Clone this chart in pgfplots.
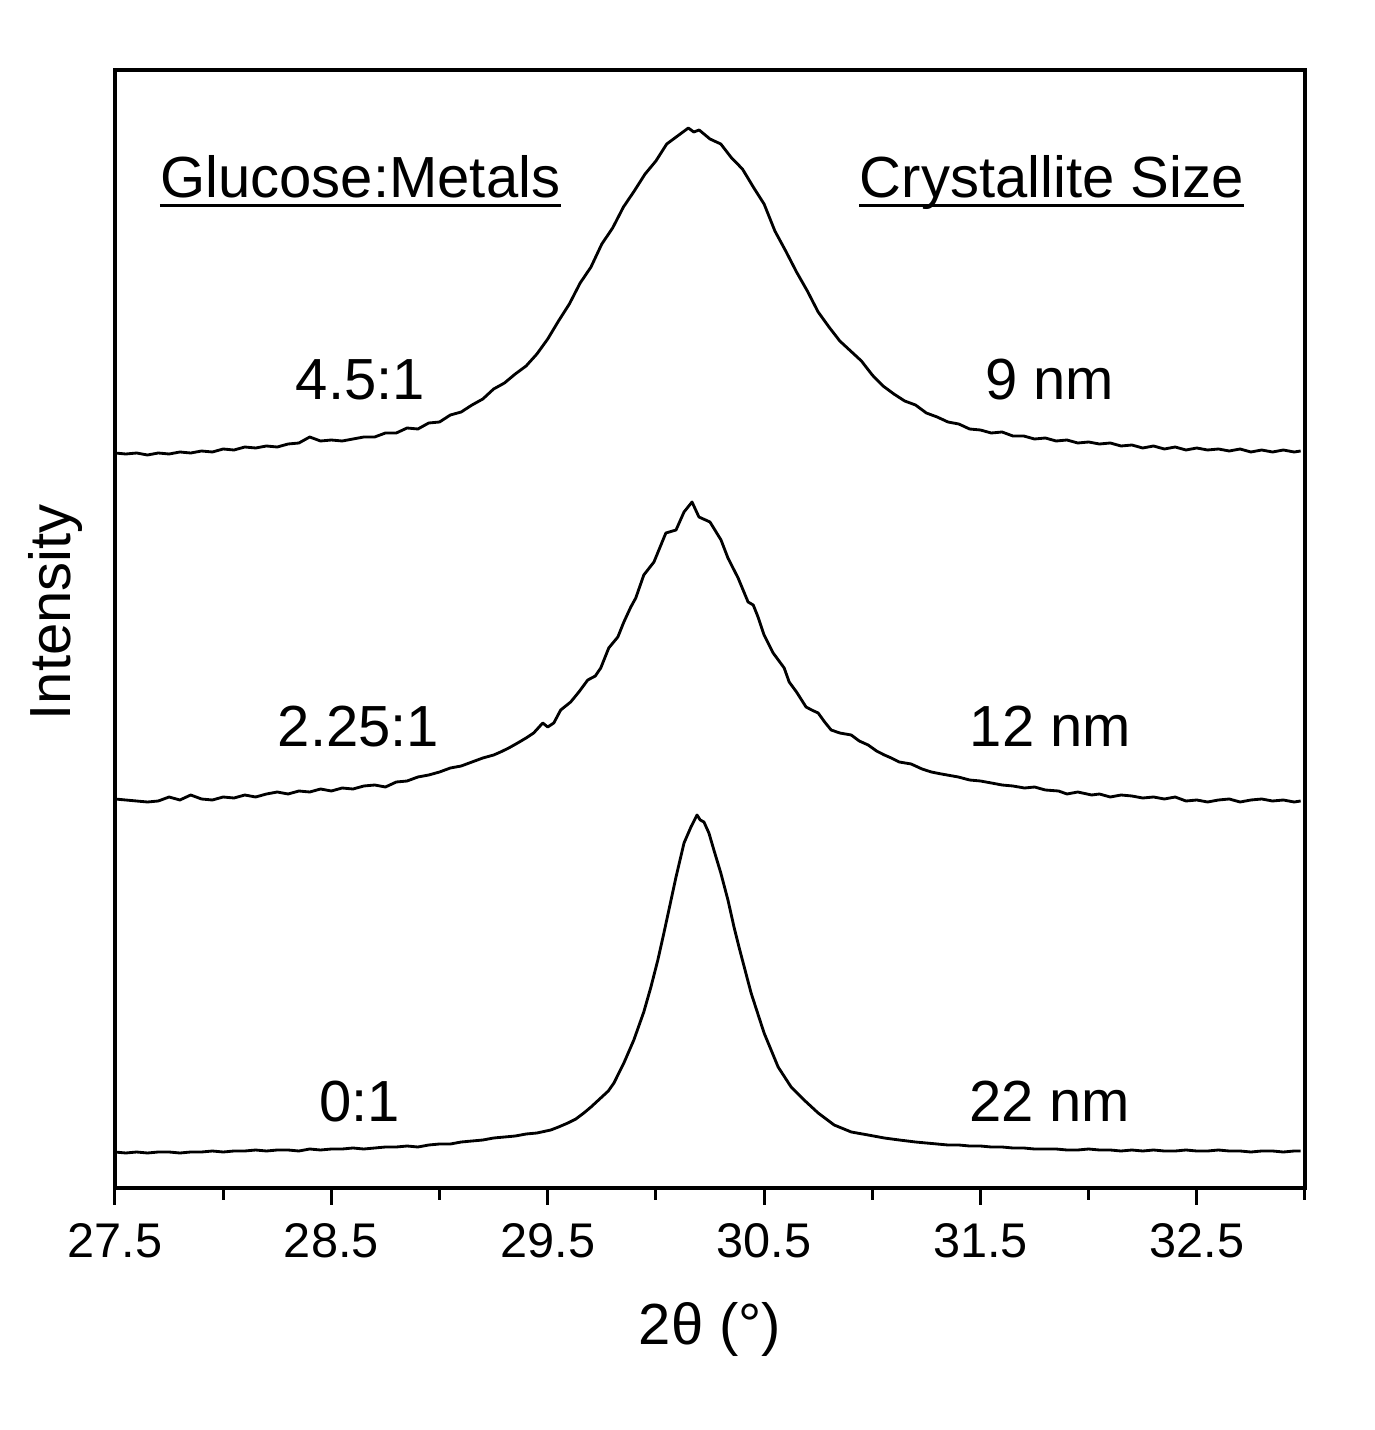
\documentclass[border=0pt]{standalone}
\usepackage{fontspec}
\setmainfont{Liberation Sans}
\usepackage{pgfplots}
\usepackage{pgfplotstable}
\pgfplotsset{compat=1.18}

% y values in arbitrary stacked units (0 = bottom of axis, 1118 = top)
\pgfplotstableread{
x y
27.50 735
27.55 734
27.60 735
27.65 733
27.70 735
27.75 734
27.80 736
27.85 735
27.90 737
27.95 736
28.00 739
28.05 738
28.10 741
28.15 740
28.20 742
28.25 741
28.30 744
28.35 745
28.40 751
28.45 747
28.50 748
28.55 747
28.60 749
28.65 751
28.70 751
28.75 755
28.80 755
28.85 760
28.90 759
28.95 765
29.00 766
29.05 773
29.10 776
29.15 783
29.20 789
29.25 799
29.30 805
29.35 814
29.40 822
29.45 834
29.50 849
29.55 867
29.60 884
29.65 905
29.70 921
29.75 944
29.80 960
29.85 981
29.90 997
29.95 1014
30.00 1027
30.05 1044
30.10 1052
30.15 1060
30.175 1056
30.20 1058
30.25 1049
30.30 1044
30.35 1030
30.40 1019
30.45 1001
30.50 984
30.55 957
30.60 937
30.65 916
30.70 897
30.75 876
30.80 861
30.85 847
30.90 837
30.95 827
31.00 813
31.05 802
31.10 794
31.15 787
31.20 783
31.25 775
31.30 771
31.35 766
31.40 764
31.45 759
31.50 758
31.55 755
31.60 756
31.65 752
31.70 752
31.75 749
31.80 750
31.85 747
31.90 748
31.95 745
32.00 746
32.05 744
32.10 745
32.15 742
32.20 743
32.25 740
32.30 742
32.35 739
32.40 741
32.45 738
32.50 740
32.55 738
32.60 739
32.65 737
32.70 739
32.75 736
32.80 738
32.85 736
32.90 738
32.95 736
32.98 737
}\glucosehigh

\pgfplotstableread{
x y
27.50 389
27.55 388
27.60 387
27.65 386
27.70 387
27.75 391
27.80 388
27.85 393
27.90 389
27.95 388
28.00 391
28.05 390
28.10 393
28.15 391
28.20 394
28.25 396
28.30 394
28.35 397
28.40 396
28.45 399
28.50 397
28.55 400
28.60 399
28.65 402
28.70 403
28.75 401
28.80 406
28.85 407
28.90 411
28.95 413
29.00 416
29.05 420
29.10 422
29.15 426
29.20 430
29.25 433
29.282 436
29.32 440
29.361 445
29.40 450
29.435 455
29.477 465
29.50 461
29.528 465
29.56 478
29.606 486
29.644 496
29.685 508
29.72 512
29.745 520
29.782 540
29.824 551
29.852 566
29.884 581
29.907 590
29.944 613
29.991 626
30.046 655
30.093 658
30.130 676
30.167 686
30.199 671
30.25 666
30.301 648
30.333 630
30.38 610
30.426 586
30.45 583
30.472 571
30.50 553
30.542 535
30.593 520
30.616 506
30.65 496
30.694 481
30.72 478
30.75 475
30.78 466
30.81 458
30.85 455
30.903 453
30.94 447
30.981 443
31.02 437
31.056 433
31.088 430
31.125 426
31.18 424
31.23 419
31.273 416
31.32 414
31.398 411
31.45 408
31.50 407
31.551 405
31.60 403
31.65 402
31.704 400
31.75 401
31.80 398
31.861 397
31.90 394
31.95 396
32.014 393
32.05 394
32.10 391
32.15 393
32.20 392
32.25 390
32.30 391
32.35 389
32.40 391
32.45 387
32.50 388
32.55 386
32.60 388
32.65 389
32.70 386
32.75 388
32.80 389
32.85 387
32.90 388
32.95 386
32.98 387
}\glucosemid

\pgfplotstableread{
x y
27.50 36
27.55 35
27.60 36
27.65 35
27.70 36
27.75 36
27.80 35
27.85 36
27.90 36
27.95 37
28.00 36
28.05 37
28.10 37
28.15 38
28.20 37
28.25 38
28.30 38
28.35 37
28.40 39
28.45 38
28.50 39
28.55 39
28.60 40
28.65 39
28.70 40
28.75 41
28.80 41
28.85 42
28.90 41
28.95 43
29.00 44
29.05 44
29.10 46
29.15 47
29.20 48
29.25 50
29.30 51
29.35 52
29.40 54
29.45 55
29.514 58
29.55 61
29.593 65
29.63 69
29.667 75
29.70 81
29.745 90
29.78 97
29.806 105
29.852 125
29.898 148
29.944 176
29.977 201
30.009 228
30.037 255
30.060 278
30.093 311
30.130 345
30.162 361
30.190 373
30.205 368
30.222 366
30.245 355
30.268 338
30.30 315
30.333 288
30.361 261
30.384 241
30.44 195
30.50 155
30.565 121
30.625 101
30.685 88
30.75 75
30.824 63
30.903 56
30.981 53
31.056 50
31.125 48
31.20 46
31.25 45
31.30 44
31.35 43
31.40 43
31.45 42
31.50 42
31.55 41
31.60 41
31.65 40
31.70 40
31.75 39
31.80 39
31.85 39
31.90 38
31.95 38
32.00 39
32.05 38
32.10 38
32.15 37
32.20 38
32.25 37
32.30 38
32.35 37
32.40 37
32.45 38
32.50 37
32.55 37
32.60 38
32.65 37
32.70 37
32.75 36
32.80 37
32.85 37
32.90 36
32.95 37
32.98 37
}\glucosezero

\begin{document}
\begin{tikzpicture}
\begin{axis}[name=ax, at={(0,0)}, anchor=south west,
    scale only axis, width=357pt, height=335.4pt,
    xmin=27.5, xmax=33.0, ymin=0, ymax=1118,
    xtick={27.5,28.5,29.5,30.5,31.5,32.5},
    xticklabels={27.5,28.5,29.5,30.5,31.5,32.5},
    minor xtick={28,29,30,31,32,33},
    ytick=\empty, xtick pos=bottom, tick align=outside,
    major tick length=5pt, minor tick length=3.5pt,
    every tick/.append style={black, line width=0.9pt},
    axis line style={line width=0.95pt},
    ticklabel style={font=\fontsize{14.6}{16}\selectfont},
    xticklabel style={yshift=-2.2pt},
    label style={font=\fontsize{17.4}{20}\selectfont},
    xlabel={2θ (°)}, ylabel={Intensity},
    xlabel style={at={(axis description cs:0.5,-0.127)}, anchor=center},
    ylabel style={at={(axis description cs:-0.0504,0.515)}, anchor=center},
    every axis plot/.append style={black, line width=0.85pt, line join=round}]
\addplot[no marks] table {\glucosehigh};
\addplot[no marks] table {\glucosemid};
\addplot[no marks] table {\glucosezero};

\begin{scope}[every node/.style={anchor=base, inner sep=0pt, font=\fontsize{17.4}{20}\selectfont}]
\node (g) at (axis cs:28.634,990) {Glucose:Metals};
\node (c) at (axis cs:31.829,990) {Crystallite Size};
\node at (axis cs:28.634,788) {4.5:1};
\node at (axis cs:31.82,788) {9 nm};
\node at (axis cs:28.625,442) {2.25:1};
\node at (axis cs:31.824,442) {12 nm};
\node at (axis cs:28.63,67) {0:1};
\node at (axis cs:31.82,67) {22 nm};
\end{scope}
\draw[line width=0.9pt] ([yshift=-2.4pt]g.base west) -- ([yshift=-2.4pt]g.base east);
\draw[line width=0.9pt] ([yshift=-2.4pt]c.base west) -- ([yshift=-2.4pt]c.base east);
\end{axis}
\path (ax.south west) ++(-34.5pt,-72.6pt) rectangle ++(412.5pt,429pt);
\end{tikzpicture}
\end{document}
